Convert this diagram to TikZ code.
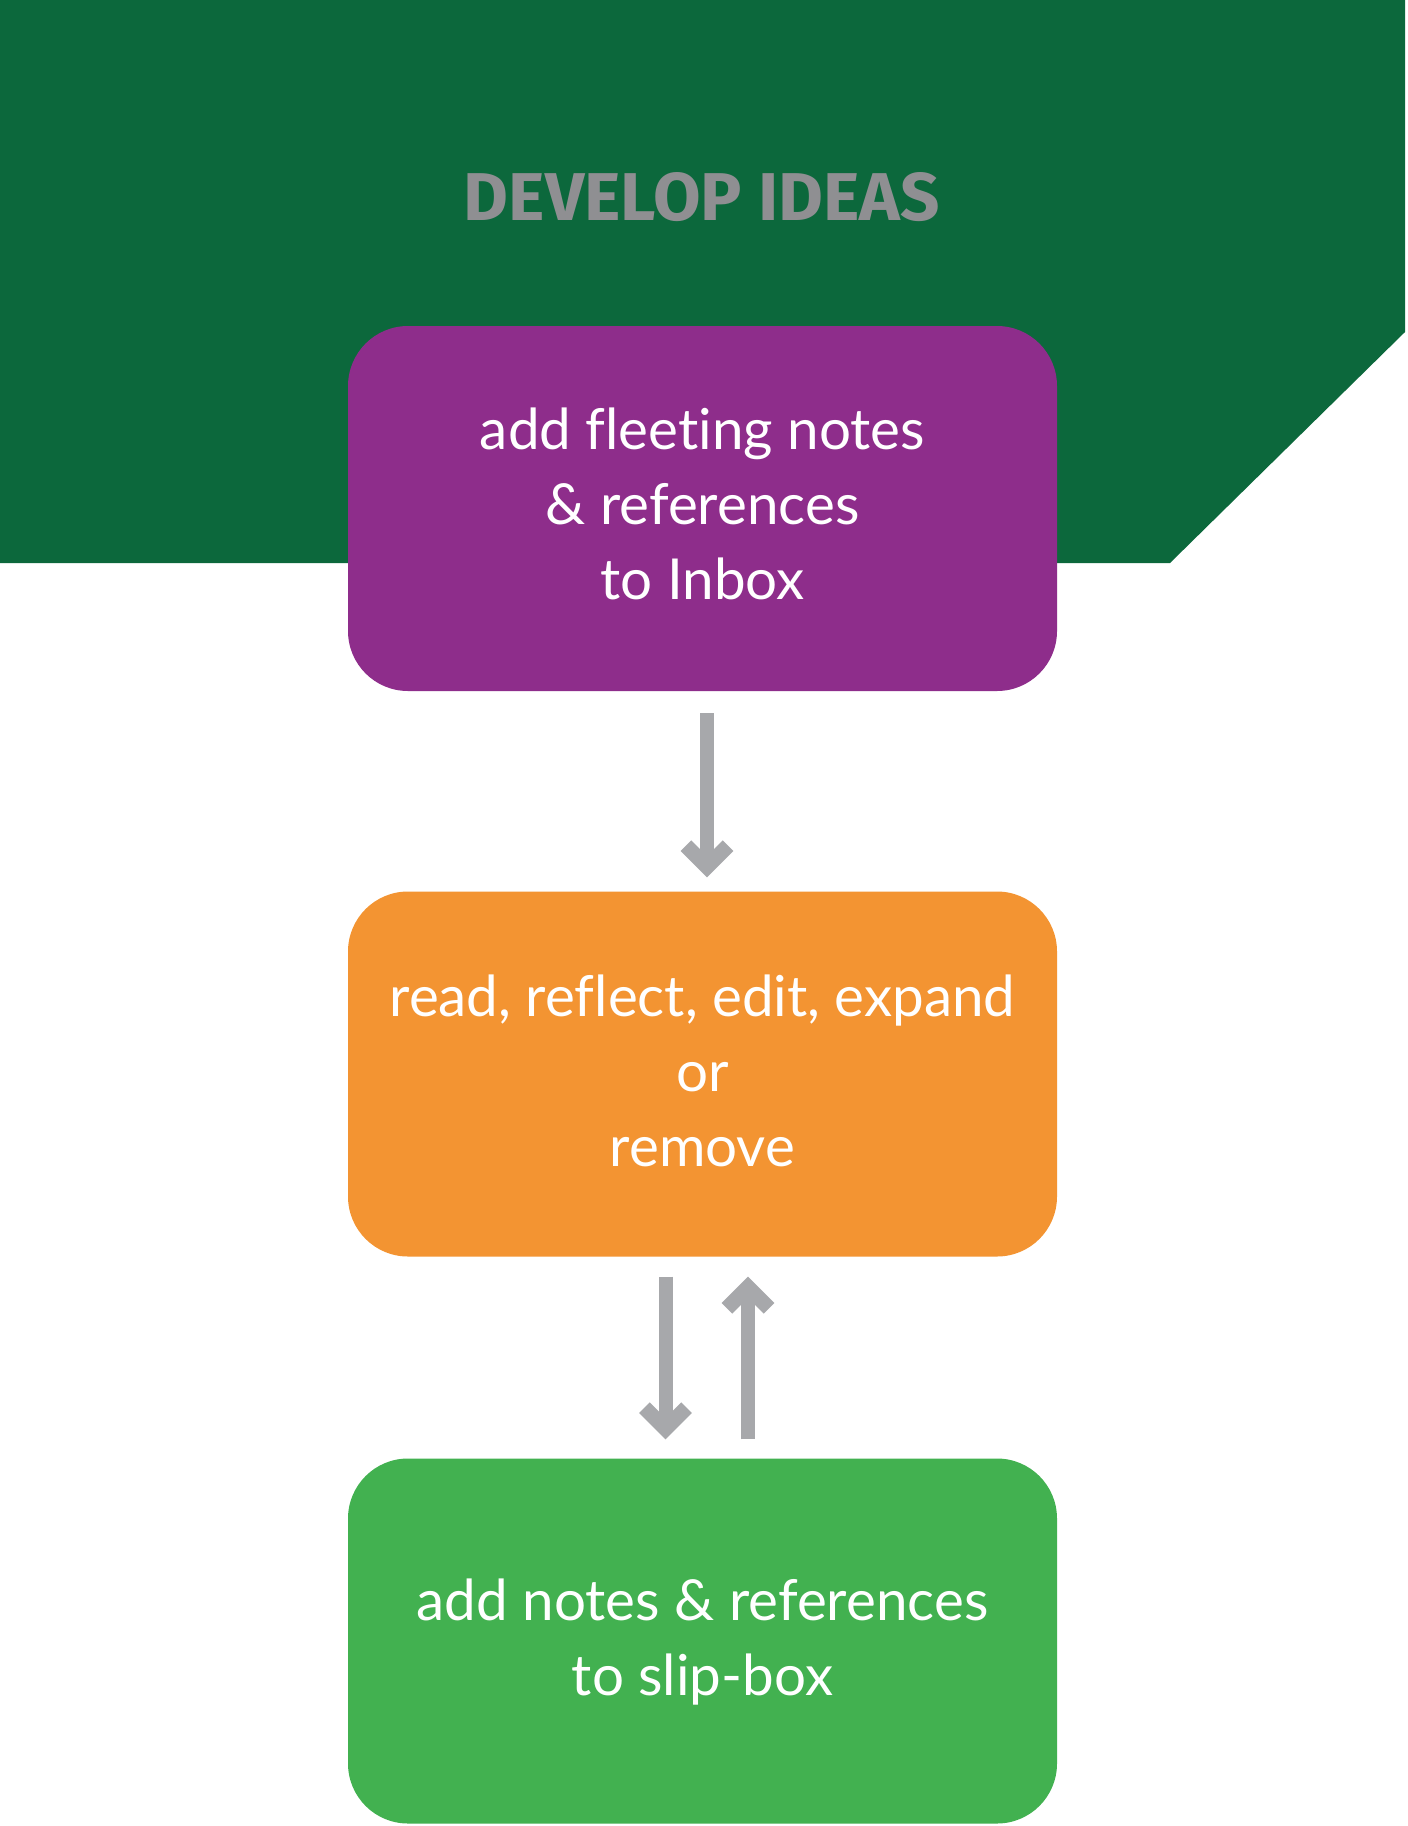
\documentclass[tikz,border=0pt]{standalone}
\usepackage{fontspec}
\usepackage{graphicx}
\setmainfont{Lato}[Ligatures=NoCommon]
\newfontfamily\titlefont{Fira Sans}
\usetikzlibrary{arrows.meta,calc}
\definecolor{bggreen}{RGB}{12,104,60}
\definecolor{boxpurple}{RGB}{142,45,139}
\definecolor{boxorange}{RGB}{243,148,50}
\definecolor{boxgreen}{RGB}{66,177,80}
\definecolor{arrowgray}{RGB}{167,168,171}
\definecolor{titlegray}{RGB}{143,143,146}
\newcommand\boxlines[1]{\begin{tabular}[b]{@{}c@{}}#1\end{tabular}}
\begin{document}
\begin{tikzpicture}[x=1pt,y=-1pt,
  stepbox/.style={rounded corners=60pt, minimum width=709pt, minimum height=365pt, inner sep=0pt, draw=none},
  boxtext/.style={text=white, inner sep=0pt, anchor=base, font=\fontsize{56.5}{75}\selectfont},
  conn/.style={draw=arrowgray, line width=14pt,
    -{Straight Barb[sharp, length=21pt, width=42pt, line width=15pt]}}]
  \useasboundingbox (0,0) rectangle (1408,1826);
  \fill[white] (0,0) rectangle (1408,1826);
  % green header band
  \fill[bggreen] (0,0) -- (1405,0) -- (1405,332) -- (1170,563) -- (0,563) -- cycle;
  \node[anchor=base, text=titlegray, inner sep=0pt] (title) at (702,220)
    {\resizebox{476pt}{48pt}{\titlefont\bfseries DEVELOP IDEAS}};
  % boxes
  \node[stepbox, fill=boxpurple] (p) at (702.5,508.5) {};
  \node[stepbox, fill=boxorange] (o) at (702.5,1074) {};
  \node[stepbox, fill=boxgreen]  (g) at (702.5,1641) {};
  % texts
  \node[boxtext] (pt) at (702.5,599) {\boxlines{add fleeting notes\\ \& references\\ to Inbox}};
  \node[boxtext] (ot) at (702.5,1166) {\boxlines{read, reflect, edit, expand\\ or\\ remove}};
  \node[boxtext] (gt) at (702.5,1695) {\boxlines{add notes \& references\\ to slip-box}};
  % connectors
  \draw[conn] ([xshift=4.5pt,yshift=-22pt]p.south) -- ([xshift=4.5pt,yshift=14pt]o.north);
  \draw[conn] ([xshift=-37pt,yshift=-20pt]o.south) -- ([xshift=-37pt,yshift=19pt]g.north);
  \draw[conn] ([xshift=45.5pt,yshift=19pt]g.north) -- ([xshift=45.5pt,yshift=-20pt]o.south);
\end{tikzpicture}
\end{document}
